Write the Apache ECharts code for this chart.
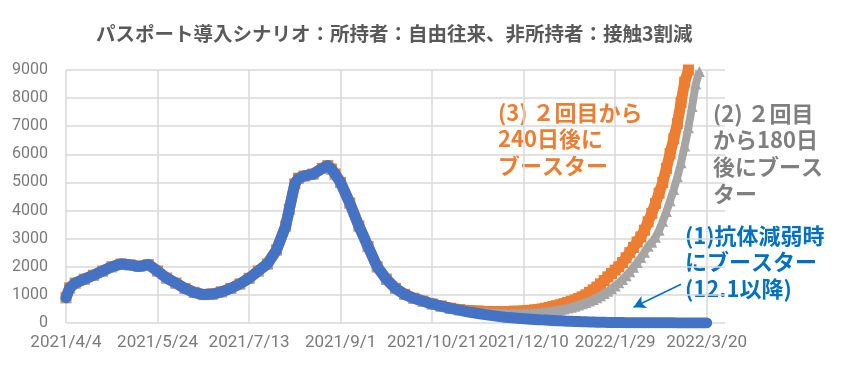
<!DOCTYPE html>
<html>
<head>
<meta charset="utf-8">
<script src="https://cdn.jsdelivr.net/npm/echarts@6/dist/echarts.min.js"></script>
<style>
html,body{margin:0;padding:0;background:#fff;}
#chart{width:856px;height:370px;}
</style>
</head>
<body>
<div id="chart"></div>
<script>
// Day offsets from 2021/4/4
const days = [
  0, 2, 5, 10, 15, 20, 25, 30, 35, 40, 45, 50, 55, 60, 65, 70, 75, 80, 85, 90, 95, 100, 105, 110, 115, 120, 122, 125, 127, 130, 135, 140, 143, 145, 147, 150, 155, 160, 165, 170, 175, 180, 185, 190, 195, 200, 205, 210, 215, 220, 225, 230, 235, 240, 245, 250,
  252, 254, 256, 258, 260, 262, 264, 266, 268, 270, 272, 274, 276, 278, 280, 282, 284, 286, 288, 290, 292, 294, 296, 298, 300,
  302, 304, 306, 308, 310, 312, 314, 316, 318, 320, 322, 324, 326, 328, 330, 332, 334, 336, 338, 340, 342, 344, 346, 348, 350
];
// (1) booster when antibodies wane (from 12.1)
const seriesBlue = [
  900, 1250, 1420, 1560, 1700, 1850, 2000, 2100, 2070, 2010, 2080, 1850, 1600, 1420, 1230, 1090, 1010, 1030, 1110, 1230, 1390, 1590, 1850, 2100, 2600, 3450, 4050, 4950, 5150, 5230, 5300, 5500, 5600, 5480, 5300, 5000, 4270, 3450, 2720, 2000, 1560, 1230, 1020, 880, 780, 680, 600, 520, 460, 390, 340, 290, 245, 205, 175, 150,
  140, 132, 125, 118, 111, 104, 97, 90, 84, 78, 72, 66, 60, 55, 50, 45, 41, 37, 33, 30, 27, 24, 22, 20, 18,
  16, 14, 13, 12, 11, 10, 9, 8, 8, 7, 7, 6, 6, 5, 5, 5, 4, 4, 4, 3, 3, 3, 3, 2, 2
];
// (3) booster 240 days after 2nd dose
const seriesOrange = [
  900, 1250, 1420, 1560, 1700, 1850, 2000, 2100, 2070, 2010, 2080, 1850, 1600, 1420, 1230, 1090, 1010, 1030, 1110, 1230, 1390, 1590, 1850, 2100, 2600, 3450, 4050, 4950, 5150, 5230, 5300, 5500, 5600, 5480, 5300, 5000, 4270, 3450, 2720, 2000, 1560, 1230, 1020, 880, 780, 680, 605, 530, 480, 445, 425, 410, 405, 410, 420, 430,
  440, 450, 465, 480, 500, 525, 555, 585, 615, 650, 690, 730, 775, 820, 870, 930, 1000, 1090, 1180, 1280, 1390, 1510, 1640, 1760, 1880,
  2000, 2150, 2320, 2500, 2690, 2880, 3060, 3300, 3600, 3900, 4250, 4620, 5000, 5500, 6030, 6550, 7100, 7850, 8570, 9000, null, null, null, null, null
];
// (2) booster 180 days after 2nd dose
const seriesGray = [
  900, 1250, 1420, 1560, 1700, 1850, 2000, 2100, 2070, 2010, 2080, 1850, 1600, 1420, 1230, 1090, 1010, 1030, 1110, 1230, 1390, 1590, 1850, 2100, 2600, 3450, 4050, 4950, 5150, 5230, 5300, 5500, 5600, 5480, 5300, 5000, 4270, 3450, 2720, 2000, 1560, 1230, 1020, 880, 780, 680, 600, 525, 465, 420, 390, 365, 350, 340, 338, 338,
  340, 345, 355, 365, 380, 395, 410, 430, 450, 475, 500, 530, 560, 600, 640, 685, 730, 780, 840, 900, 970, 1050, 1130, 1220, 1320,
  1430, 1550, 1680, 1820, 1980, 2150, 2330, 2520, 2730, 2870, 3050, 3300, 3620, 3970, 4350, 4750, 5200, 5700, 6300, 6950, 7700, 8500, 8950, null, null
];
const xTickLabels = ['2021/4/4', '2021/5/24', '2021/7/13', '2021/9/1', '2021/10/21', '2021/12/10', '2022/1/29', '2022/3/20'];
const yTicks = [0, 1000, 2000, 3000, 4000, 5000, 6000, 7000, 8000, 9000];
const arrowFrom = [336, 1380];
const arrowTo = [310, 560];

const pairs = arr => days.map((d, i) => [d, arr[i]]);
const chart = echarts.init(document.getElementById('chart'), null, {renderer: 'canvas'});
const gridColor = '#d9d9d9';
const labelFont = 'Roboto';

chart.setOption({
  animation: false,
  backgroundColor: '#ffffff',
  title: {
    text: 'パスポート導入シナリオ：所持者：自由往来、非所持者：接触3割減',
    left: 91, top: 19,
    textStyle: {fontFamily: '"Noto Sans CJK JP"', fontSize: 19.5, fontWeight: 'bold', color: '#595959'}
  },
  grid: {left: 66, right: 131, top: 70, bottom: 47, containLabel: false},
  xAxis: {
    type: 'value', min: 0, max: 360, interval: 50,
    axisLine: {show: false}, axisTick: {show: false},
    splitLine: {show: true, showMaxLine: false, lineStyle: {color: gridColor, width: 1.5}},
    axisLabel: {
      margin: 11, color: '#7a7a7a', fontFamily: labelFont, fontSize: 17, showMaxLabel: false,
      formatter: v => (v % 50 === 0 && xTickLabels[v / 50]) ? xTickLabels[v / 50] : ''
    }
  },
  yAxis: {
    type: 'value', min: yTicks[0], max: yTicks[yTicks.length - 1], interval: 1000,
    axisLine: {show: false}, axisTick: {show: false},
    splitLine: {show: true, lineStyle: {color: gridColor, width: 1.5}},
    axisLabel: {margin: 18, color: '#7a7a7a', fontFamily: labelFont, fontSize: 16, formatter: v => String(v)}
  },
  series: [
    {
      name: '(3)', type: 'line', data: pairs(seriesOrange), z: 2,
      symbol: 'rect', symbolSize: 11, showSymbol: true,
      itemStyle: {color: '#ED7D31'},
      lineStyle: {color: '#ED7D31', width: 11, join: 'round'}
    },
    {
      name: '(2)', type: 'line', data: pairs(seriesGray), z: 3,
      symbol: 'triangle', symbolSize: 11, showSymbol: true,
      itemStyle: {color: '#A5A5A5'},
      lineStyle: {color: '#A5A5A5', width: 8, join: 'round'}
    },
    {
      name: '(1)', type: 'line', data: pairs(seriesBlue), z: 4,
      symbol: 'none',
      lineStyle: {color: '#4472C4', width: 11, cap: 'round', join: 'round'},
      markLine: {
        silent: true, symbol: ['none', 'arrow'], symbolSize: [10, 12],
        label: {show: false},
        lineStyle: {color: '#0070C0', width: 1.5, type: 'solid'},
        data: [[{coord: arrowFrom}, {coord: arrowTo}]]
      }
    }
  ],
  graphic: [
    {type: 'text', left: 498, top: 99, style: {text: '(3) ２回目から\n240日後に\nブースター', font: 'bold 22px "Noto Sans CJK JP"', fill: '#ED7D31', lineHeight: 26.5}},
    {type: 'text', left: 713, top: 100, style: {text: '(2) ２回目\nから180日\n後にブース\nター', font: 'bold 22px "Noto Sans CJK JP"', fill: '#7F7F7F', lineHeight: 26.7}},
    {type: 'text', left: 685, top: 222, style: {text: '(1)抗体減弱時\nにブースター\n(12.1以降)', font: 'bold 22px "Noto Sans CJK JP"', fill: '#0070C0', lineHeight: 26.5}}
  ]
});
</script>
</body>
</html>
